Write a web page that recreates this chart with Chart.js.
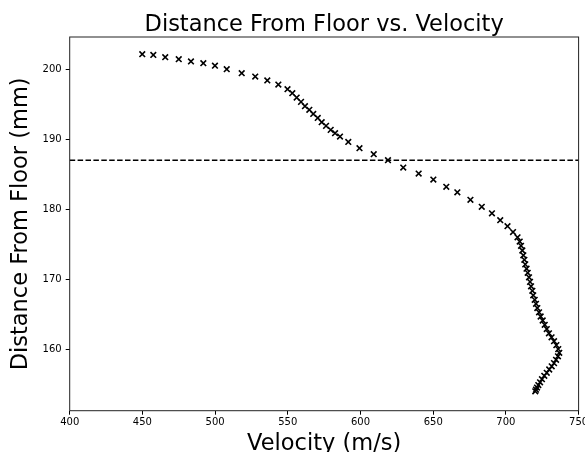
<!DOCTYPE html>
<html>
<head>
<meta charset="utf-8">
<script src="https://cdn.jsdelivr.net/npm/chart.js@4.4.1/dist/chart.umd.min.js"></script>
<style>
  html, body { margin: 0; padding: 0; background: #fff; }
</style>
</head>
<body>
<canvas id="DistanceChart" width="585" height="452"></canvas>
<script>
// readings along the curve, top-left to bottom
const velocity = [449.9, 457.5, 465.7, 475.0, 483.4, 491.9, 499.9, 508.0, 518.3, 527.6,
  535.9, 543.5, 549.8, 553.1, 556.1, 559.1, 561.8, 564.8, 567.5, 570.6,
  573.3, 576.3, 579.5, 582.5, 585.9, 591.6, 599.3, 609.1, 618.9, 629.4,
  640.0, 650.1, 659.0, 666.6, 675.6, 683.4, 690.4, 696.1, 701.1, 704.9,
  708.0, 709.5, 710.4, 711.3, 712.0, 712.7, 713.3, 714.2, 715.0, 715.9,
  716.6, 717.3, 718.2, 718.8, 719.8, 720.7, 721.6, 722.8, 723.9, 725.3,
  726.7, 728.1, 729.6, 731.4, 733.1, 734.7, 736.0, 736.7, 735.8, 734.5,
  733.1, 731.5, 729.8, 728.1, 726.4, 724.8, 723.5, 722.3, 721.4, 720.7, 720.2];
const distance = [202.14, 202.04, 201.71, 201.43, 201.11, 200.86, 200.5, 200.0, 199.43, 198.94,
  198.4, 197.8, 197.14, 196.57, 195.94, 195.33, 194.71, 194.19, 193.61, 193.04,
  192.43, 191.9, 191.33, 190.86, 190.37, 189.61, 188.71, 187.86, 187.0, 185.94,
  185.09, 184.23, 183.19, 182.4, 181.33, 180.33, 179.4, 178.43, 177.57, 176.73,
  175.97, 175.37, 174.76, 174.09, 173.4, 172.76, 172.11, 171.5, 170.9, 170.26,
  169.61, 168.97, 168.33, 167.69, 167.04, 166.47, 165.86, 165.26, 164.66, 164.09,
  163.47, 162.86, 162.26, 161.69, 161.14, 160.57, 160.0, 159.47, 158.97, 158.47,
  158.0, 157.54, 157.09, 156.61, 156.19, 155.71, 155.26, 154.86, 154.51, 154.21, 153.97];
const floorLevel = 187;
const xTicks = [400, 450, 500, 550, 600, 650, 700, 750];
const yTicks = [160, 170, 180, 190, 200];

const font = 'DejaVu Sans';

// matplotlib style box around the axes
const framePlugin = {
  id: 'frame',
  afterDatasetsDraw(chart) {
    const { ctx, chartArea: a } = chart;
    ctx.save();
    ctx.strokeStyle = '#222';
    ctx.lineWidth = 1;
    ctx.strokeRect(a.left, a.top, a.right - a.left, a.bottom - a.top);
    ctx.restore();
  }
};

const points = velocity.map((v, i) => ({ x: v, y: distance[i] }));

const ctx = document.getElementById('DistanceChart').getContext('2d');
new Chart(ctx, {
  type: 'scatter',
  data: {
    datasets: [{
      data: points,
      pointStyle: 'crossRot',
      pointRadius: 4,
      pointBorderWidth: 1.6,
      pointBorderColor: '#000',
      pointBackgroundColor: '#000'
    }, {
      type: 'line',
      data: [{ x: 400, y: floorLevel }, { x: 750, y: floorLevel }],
      borderColor: '#000',
      borderWidth: 1.5,
      borderDash: [5.5, 2.4],
      pointRadius: 0
    }]
  },
  options: {
    responsive: false,
    animation: false,
    devicePixelRatio: 1,
    layout: { padding: { left: 0, right: 6.4, top: 0, bottom: 0 } },
    plugins: {
      legend: { display: false },
      tooltip: { enabled: false },
      title: {
        display: true,
        fullSize: false,
        text: 'Distance From Floor vs. Velocity',
        color: '#000',
        font: { family: font, size: 22.5, weight: 'normal', lineHeight: 1 },
        padding: { top: 14, bottom: 0.5 }
      }
    },
    scales: {
      x: {
        type: 'linear',
        min: 400,
        max: 750,
        afterBuildTicks: s => { s.ticks = xTicks.map(v => ({ value: v })); },
        afterFit: s => { s.height = 41.3; s.paddingLeft = 0; s.paddingRight = 0; },
        grid: { drawOnChartArea: false, drawTicks: true, tickLength: 4, color: '#000' },
        border: { display: false },
        ticks: { color: '#000', padding: 2, maxRotation: 0, font: { family: font, size: 10 } },
        title: {
          display: true,
          text: 'Velocity (m/s)',
          color: '#000',
          font: { family: font, size: 22.5, lineHeight: 1 },
          padding: { top: 0, bottom: -3 }
        }
      },
      y: {
        type: 'linear',
        min: 151.2,
        max: 204.6,
        afterBuildTicks: s => { s.ticks = yTicks.map(v => ({ value: v })); },
        afterFit: s => { s.width = 69.7; },
        grid: { drawOnChartArea: false, drawTicks: true, tickLength: 4, color: '#000' },
        border: { display: false },
        ticks: { color: '#000', padding: 4, font: { family: font, size: 10 } },
        title: {
          display: true,
          text: 'Distance From Floor (mm)',
          color: '#000',
          font: { family: font, size: 22.5, lineHeight: 1 },
          padding: { top: 10, bottom: 0 }
        }
      }
    }
  },
  plugins: [framePlugin]
});
</script>
</body>
</html>
